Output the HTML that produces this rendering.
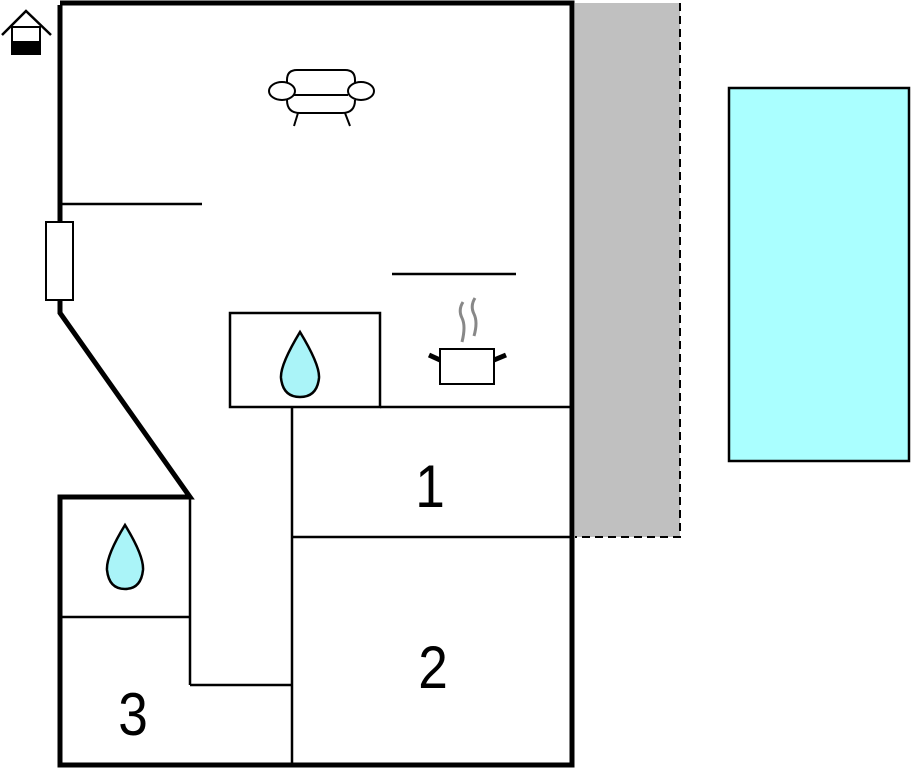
<!DOCTYPE html><html><head><style>body{margin:0;background:#fff}</style></head><body>
<svg width="912" height="768" viewBox="0 0 912 768" xmlns="http://www.w3.org/2000/svg" font-family="Liberation Sans, sans-serif">
<rect x="575" y="3" width="105" height="534" fill="#c0c0c0"/>
<path d="M680 3 V537 H575" fill="none" stroke="#000" stroke-width="2" stroke-dasharray="8,5"/>
<rect x="729" y="88" width="180" height="373" fill="#aaffff" stroke="#000" stroke-width="2.5"/>
<g stroke="#000" fill="none">
<path d="M60 3 H572 V765 H60 V497 H190 L60 313 V5" stroke-width="5" stroke-linejoin="miter"/>
<g stroke-width="2.5">
<line x1="62" y1="204" x2="202" y2="204"/>
<line x1="392" y1="274" x2="516" y2="274"/>
<rect x="230" y="313" width="150" height="94"/>
<line x1="380" y1="407" x2="572" y2="407"/>
<line x1="292" y1="407" x2="292" y2="765"/>
<line x1="292" y1="537" x2="572" y2="537"/>
<line x1="190" y1="497" x2="190" y2="685"/>
<line x1="190" y1="685" x2="292" y2="685"/>
<line x1="60" y1="617" x2="190" y2="617"/>
</g>
</g>
<rect x="46" y="222" width="27" height="78" fill="#fff" stroke="#000" stroke-width="2"/>
<path d="M2 35 L26 11 L51 35" fill="none" stroke="#000" stroke-width="2.5"/>
<rect x="12" y="27" width="28" height="27" fill="#fff" stroke="#000" stroke-width="2"/>
<rect x="12" y="41" width="28" height="14" fill="#000"/>
<g fill="#fff" stroke="#000" stroke-width="2">
<path d="M287 88 V80 Q287 70 297 70 H345 Q355 70 355 80 V88"/>
<path d="M287 100 Q287 113 300 113 H342 Q355 113 355 100"/>
<line x1="298" y1="113" x2="294" y2="126"/>
<line x1="345" y1="113" x2="350" y2="126"/>
<line x1="294" y1="95" x2="348" y2="95"/>
<ellipse cx="282" cy="91" rx="13" ry="9"/>
<ellipse cx="361" cy="91" rx="13" ry="9"/>
</g>
<path d="M463 302 Q458 310 462 318 Q466 326 462 342 M475 298 Q470 306 474 314 Q478 322 474 336" fill="none" stroke="#888" stroke-width="3"/>
<rect x="440" y="349" width="54" height="35" fill="#fff" stroke="#000" stroke-width="2"/>
<line x1="440" y1="360" x2="429" y2="355" stroke="#000" stroke-width="5"/>
<line x1="494" y1="360" x2="506" y2="355" stroke="#000" stroke-width="5"/>
<path d="M300 332 Q280 365 281 378 Q283 397 300 397 Q317 397 319 378 Q320 365 300 332 Z" fill="#aaf4f8" stroke="#000" stroke-width="2.5"/>
<path d="M125 525 Q106 556 107 570 Q109 589 125 589 Q141 589 143 570 Q144 556 125 525 Z" fill="#aaf4f8" stroke="#000" stroke-width="2.5"/>
<g font-size="56" text-anchor="middle">
<text transform="translate(430,507) scale(0.95,1.08)">1</text>
<text transform="translate(433,688) scale(0.95,1.08)">2</text>
<text transform="translate(133,735) scale(0.95,1.08)">3</text>
</g>
</svg>
</body></html>
